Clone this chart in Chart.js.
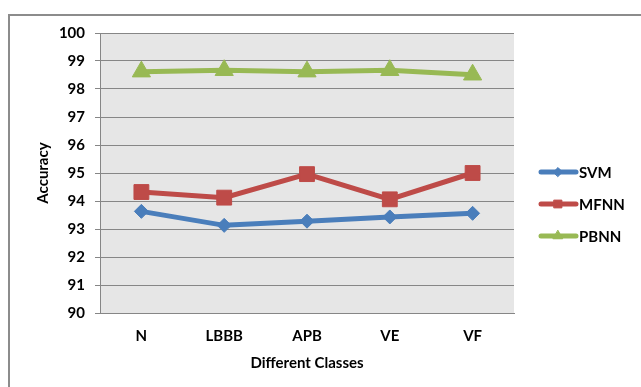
<!DOCTYPE html>
<html><head><meta charset="utf-8">
<script src="https://cdn.jsdelivr.net/npm/chart.js@4"></script>
<style>
html,body{margin:0;padding:0;background:#fff;}
#wrap{position:relative;width:641px;height:387px;overflow:hidden;background:#fff;}
#frame{position:absolute;left:8px;top:14px;width:700px;height:500px;border:2px solid #8c8c8c;box-sizing:border-box;}
canvas{position:absolute;left:0;top:0;}
</style></head><body>
<div id="wrap"><div id="frame"></div><canvas id="c" width="641" height="387"></canvas></div>
<script>
const categories = ['N', 'LBBB', 'APB', 'VE', 'VF'];
const svmValues = [93.63, 93.13, 93.28, 93.43, 93.56];
const mfnnValues = [94.32, 94.12, 94.96, 94.06, 95.00];
const pbnnValues = [98.62, 98.67, 98.62, 98.67, 98.51];
const seriesNames = ['SVM', 'MFNN', 'PBNN'];
const yMin = 90, yMax = 100, yStep = 1;
const xTitle = 'Different Classes';
const yTitle = 'Accuracy';

const FONT = 'Lato, "Liberation Sans", sans-serif';
const FS = 15;
const GRID = '#868686';

const plotBg = {
  id: 'plotBg',
  beforeDraw(chart) {
    const {ctx, chartArea: a} = chart;
    ctx.save();
    ctx.fillStyle = '#e6e6e6';
    ctx.fillRect(a.left, a.top, a.right - a.left, a.bottom - a.top);
    ctx.restore();
  }
};

const customLegend = {
  id: 'customLegend',
  afterDraw(chart) {
    const ctx = chart.ctx;
    const sizes = [4.5, 5.5, 5.5];
    chart.data.datasets.forEach((ds, i) => {
      const y = 172 + 32 * i;
      ctx.save();
      ctx.strokeStyle = ds.borderColor;
      ctx.lineWidth = 5;
      ctx.lineCap = 'round';
      ctx.beginPath();
      ctx.moveTo(541, y);
      ctx.lineTo(576, y);
      ctx.stroke();
      ctx.fillStyle = ds.backgroundColor;
      ctx.strokeStyle = ds.borderColor;
      ctx.lineWidth = 1;
      Chart.helpers.drawPoint(ctx, {pointStyle: ds.pointStyle, radius: sizes[i], rotation: 0, borderWidth: 1}, 558, y);
      ctx.fillStyle = '#000';
      ctx.font = 'bold ' + FS + 'px ' + FONT;
      ctx.textBaseline = 'middle';
      ctx.textAlign = 'left';
      ctx.fillText(ds.label, 579, y + 1);
      ctx.restore();
    });
  }
};

function mk(label, data, color, style, r) {
  return {
    label, data,
    borderColor: color, backgroundColor: color,
    pointBackgroundColor: color, pointBorderColor: color,
    pointStyle: style, pointRadius: r, pointBorderWidth: 1,
    borderWidth: 5, tension: 0, fill: false
  };
}

new Chart(document.getElementById('c'), {
  type: 'line',
  data: {
    labels: categories,
    datasets: [
      mk(seriesNames[0], svmValues, '#4A7EBB', 'rectRot', 7),
      mk(seriesNames[1], mfnnValues, '#BE4B48', 'rect', 10.5),
      mk(seriesNames[2], pbnnValues, '#98B954', 'triangle', 10.5)
    ]
  },
  options: {
    responsive: false,
    animation: false,
    devicePixelRatio: 1,
    layout: {padding: {top: 33, right: 127, bottom: 0, left: 0}},
    plugins: {legend: {display: false}, tooltip: {enabled: false}},
    scales: {
      x: {
        offset: true,
        grid: {display: false},
        border: {display: true, color: GRID, width: 1},
        ticks: {color: '#000', font: {family: FONT, size: FS, weight: 'bold'}, padding: 6, maxRotation: 0},
        title: {display: true, text: xTitle, color: '#000', font: {family: FONT, size: FS, weight: 'bold'}, padding: {top: 0, bottom: 15}},
        afterFit(s) { s.height = 74; }
      },
      y: {
        min: yMin, max: yMax,
        grid: {color: GRID, lineWidth: 1, tickLength: 5, drawTicks: true},
        border: {display: true, color: GRID, width: 1},
        ticks: {stepSize: yStep, color: '#000', font: {family: FONT, size: FS, weight: 'bold'}, padding: 10},
        title: {display: true, text: yTitle, color: '#000', font: {family: FONT, size: FS, weight: 'bold'}, padding: {top: 34, bottom: 0}},
        afterFit(s) { s.width = 100; }
      }
    }
  },
  plugins: [plotBg, customLegend]
});
</script>
</body></html>
